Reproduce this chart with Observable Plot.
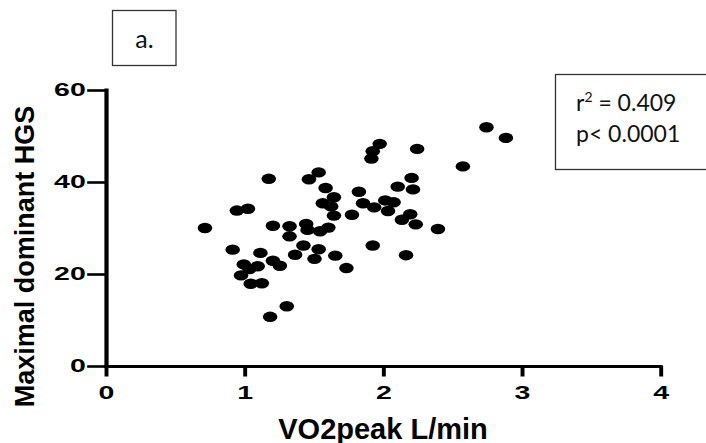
<!DOCTYPE html>
<html><head><meta charset="utf-8">
<script src="https://cdn.jsdelivr.net/npm/d3@7"></script>
<script src="https://cdn.jsdelivr.net/npm/@observablehq/plot@0.6"></script>
<style>
html,body{margin:0;padding:0;background:#fff;}
#wrap{position:relative;width:706px;height:443px;overflow:hidden;background:#fff;}
#wrap > svg{position:absolute;left:0;top:0;}
</style></head><body><div id="wrap"></div>
<script>
// ---- data ----
const vo2 = [0.71,1.17,0.94,1.02,0.91,1.20,1.32,1.32,1.42,1.44,1.45,1.36,1.53,1.46,1.58,1.56,1.54,1.53,1.50,1.11,0.99,1.09,1.03,1.20,1.25,0.97,1.04,1.12,1.30,1.18,1.97,1.92,1.91,2.24,1.82,2.10,2.20,2.21,1.64,1.62,1.85,1.93,2.01,2.07,2.03,1.77,1.64,1.60,2.13,2.19,2.23,1.65,1.73,1.92,2.16,2.74,2.88,2.57,2.39];
const hgs = [30.1,40.8,33.9,34.3,25.4,30.6,30.5,28.3,26.3,31.0,29.7,24.3,42.2,40.7,38.8,35.5,29.4,25.5,23.4,24.7,22.2,21.8,21.2,23.0,21.9,19.8,18.0,18.1,13.1,10.8,48.4,46.8,45.2,47.3,38.0,39.1,41.0,38.5,36.8,34.8,35.5,34.6,36.1,35.7,33.8,33.0,32.8,30.2,31.9,33.1,30.9,24.1,21.4,26.3,24.2,52.0,49.7,43.5,29.9];
const xTicks = [0, 1, 2, 3, 4];
const yTicks = [0, 20, 40, 60];
const xDomain = [0, 4];
const yDomain = [0, 60];
const xTitle = "VO2peak L/min";
const yTitle = "Maximal dominant HGS";
const panelLabel = "a.";
const r2Value = "0.409";
const pText = "p< 0.0001";

// ---- chart (drawn narrow, then stretched horizontally like the reference) ----
const FULLW = 706, H = 443;
const W = 504;
const S = FULLW / W;
const data = vo2.map((v, i) => ({x: v, y: hgs[i]}));
const boldFont = "'Liberation Sans', Arial, sans-serif";

const plot = Plot.plot({
  width: W, height: H,
  marginLeft: 105.8 / S, marginRight: W - 660.5 / S, marginTop: 90, marginBottom: 77,
  x: {domain: xDomain},
  y: {domain: yDomain},
  style: {fontFamily: boldFont, background: "white", color: "black"},
  marks: [
    Plot.axisY({ticks: yTicks, tickFormat: d => String(d), tickSize: 13.3, tickPadding: 1.5, strokeWidth: 2.6, fontSize: 18.5, fontWeight: "bold", label: null}),
    Plot.axisX({ticks: xTicks, tickFormat: d => String(d), tickSize: 10.5, tickPadding: 8.5, strokeWidth: 2.8, fontSize: 18.5, fontWeight: "bold", label: null}),
    Plot.ruleX([0], {strokeWidth: 3, strokeLinecap: "square"}),
    Plot.ruleY([0], {strokeWidth: 3, strokeLinecap: "square"}),
    Plot.dot(data, {x: "x", y: "y", r: 5.2, fill: "black", stroke: "none"})
  ]
});
plot.setAttribute("width", FULLW);
plot.setAttribute("height", H);
plot.setAttribute("preserveAspectRatio", "none");
plot.style.width = FULLW + "px";
plot.style.height = H + "px";
plot.style.maxWidth = "none";
document.getElementById("wrap").appendChild(plot);

// widen the tick labels a little more, as in the reference
d3.select(plot).selectAll('g[aria-label$="tick label"] text').each(function () {
  const len = this.getComputedTextLength();
  this.setAttribute("textLength", (len * 1.1).toFixed(2));
  this.setAttribute("lengthAdjust", "spacingAndGlyphs");
});

// ---- unstretched layer: axis titles and annotation boxes ----
const ann = d3.select("#wrap").append("svg")
  .attr("width", FULLW).attr("height", H)
  .style("pointer-events", "none");
ann.append("text")
  .attr("transform", "translate(33.5,256.5) rotate(-90)")
  .attr("text-anchor", "middle")
  .attr("font-family", boldFont).attr("font-weight", "bold").attr("font-size", 27).attr("fill", "black")
  .text(yTitle);
ann.append("text")
  .attr("x", 383).attr("y", 438.5)
  .attr("text-anchor", "middle")
  .attr("font-family", boldFont).attr("font-weight", "bold").attr("font-size", 29).attr("fill", "black")
  .text(xTitle);
ann.append("rect").attr("x", 112.5).attr("y", 10.5).attr("width", 63.5).attr("height", 55)
  .attr("fill", "none").attr("stroke", "#333").attr("stroke-width", 1.3);
ann.append("text").attr("x", 144.5).attr("y", 48).attr("text-anchor", "middle")
  .attr("font-family", "Lato, 'Open Sans', sans-serif").attr("font-size", 25).attr("fill", "#111")
  .text(panelLabel);
ann.append("rect").attr("x", 555.5).attr("y", 74.5).attr("width", 170).attr("height", 95)
  .attr("fill", "none").attr("stroke", "#333").attr("stroke-width", 1.3);
const t1 = ann.append("text").attr("x", 576).attr("y", 111)
  .attr("font-family", "Lato, 'Open Sans', sans-serif").attr("font-size", 23).attr("fill", "#111");
t1.append("tspan").text("r");
t1.append("tspan").attr("dy", -9).attr("font-size", 14).text("2");
t1.append("tspan").attr("dy", 9).text(" = " + r2Value);
ann.append("text").attr("x", 576).attr("y", 142)
  .attr("font-family", "Lato, 'Open Sans', sans-serif").attr("font-size", 23).attr("fill", "#111")
  .text(pText);
</script>
</body></html>
